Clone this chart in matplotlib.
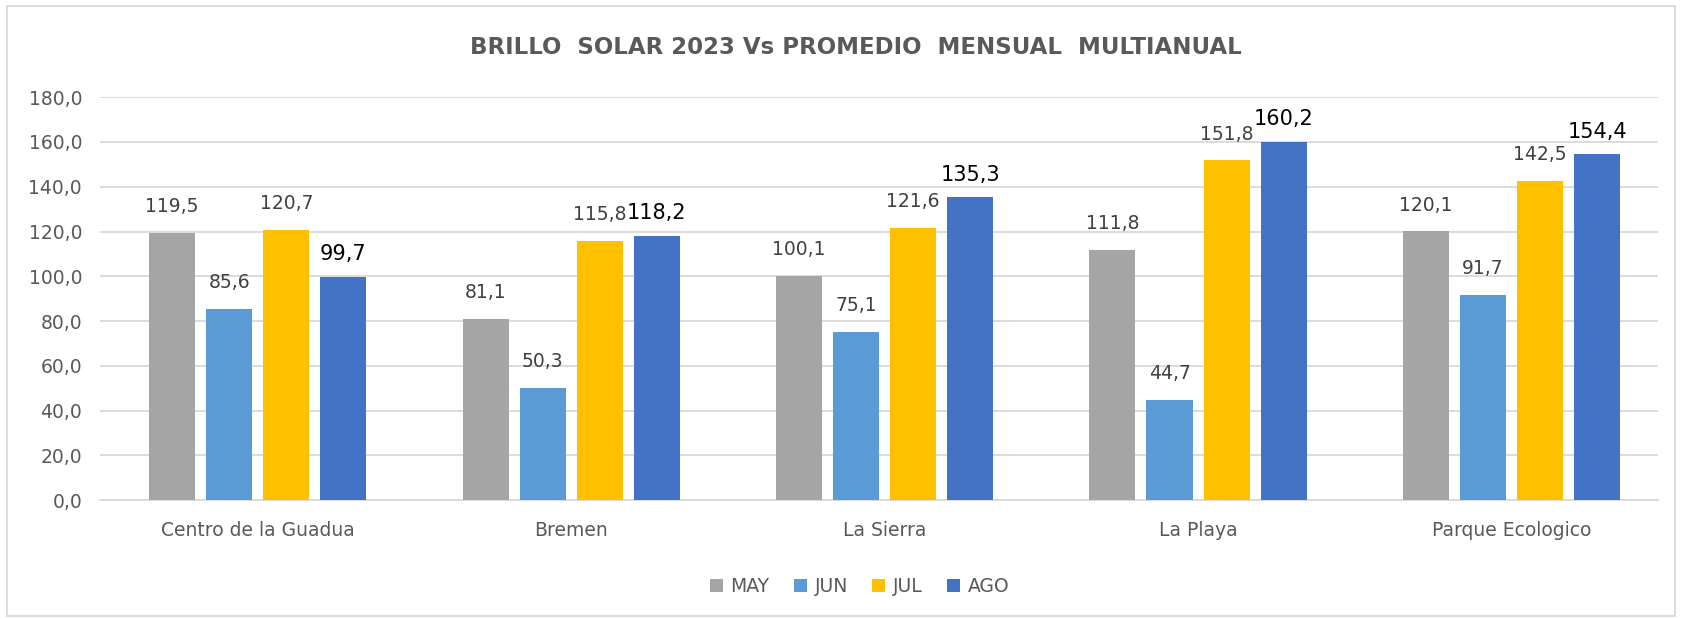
import matplotlib
matplotlib.use('Agg')
import matplotlib.pyplot as plt
import numpy as np
from matplotlib.patches import Rectangle

# Data
stations = ['Centro de la Guadua', 'Bremen', 'La Sierra', 'La Playa', 'Parque Ecologico']
months = ['MAY', 'JUN', 'JUL', 'AGO']
may = [119.5, 81.1, 100.1, 111.8, 120.1]
jun = [85.6, 50.3, 75.1, 44.7, 91.7]
jul = [120.7, 115.8, 121.6, 151.8, 142.5]
ago = [99.7, 118.2, 135.3, 160.2, 154.4]
yticks = [0, 20, 40, 60, 80, 100, 120, 140, 160, 180]

series = [may, jun, jul, ago]
colors = ['#A5A5A5', '#5B9BD5', '#FFC000', '#4472C4']

plt.rcParams['font.family'] = ['DejaVu Sans']

fig = plt.figure(figsize=(16.82, 6.19), dpi=100)
ax = fig.add_axes([0.0595, 0.192, 0.9265, 0.651])

x = np.arange(len(stations))
width = 0.147
pitch = 0.182
for i, (vals, c, m) in enumerate(zip(series, colors, months)):
    pos = x + (i - 1.5) * pitch
    ax.bar(pos, vals, width=width, color=c, label=m, zorder=3)
    for px, v in zip(pos, vals):
        lbl = f'{v:.1f}'.replace('.', ',')
        if m == 'AGO':
            ax.annotate(lbl, (px, v), xytext=(0, 9), textcoords='offset points',
                        ha='center', va='bottom', fontsize=15, color='black')
        else:
            ax.annotate(lbl, (px, v), xytext=(0, 12), textcoords='offset points',
                        ha='center', va='bottom', fontsize=13.5, color='#404040')

ax.set_xlim(-0.503, 4.469)
ax.set_ylim(0, 180)
ax.set_yticks(yticks)
ax.set_yticklabels([f'{t:.1f}'.replace('.', ',') for t in yticks])
ax.set_xticks(x)
ax.set_xticklabels(stations)
ax.tick_params(axis='y', length=0, pad=13, labelsize=13.5, labelcolor='#595959')
ax.tick_params(axis='x', length=0, pad=15, labelsize=13.5, labelcolor='#595959')
ax.grid(axis='y', color='#D9D9D9', linewidth=1.3, zorder=0)
for s in ['top', 'right', 'left']:
    ax.spines[s].set_visible(False)
ax.spines['bottom'].set_color('#D9D9D9')
ax.spines['bottom'].set_linewidth(1.3)

fig.text(0.509, 0.923, 'BRILLO  SOLAR 2023 Vs PROMEDIO  MENSUAL  MULTIANUAL',
         ha='center', va='center', fontsize=16.5, fontweight='bold', color='#595959')

leg = fig.legend(loc='center', bbox_to_anchor=(0.511, 0.053), ncol=4, frameon=False,
                 fontsize=13.5, handlelength=0.7, handleheight=0.7, handletextpad=0.4,
                 columnspacing=1.3)
for t in leg.get_texts():
    t.set_color('#595959')

fig.patches.append(Rectangle((0.004, 0.005), 0.992, 0.985, transform=fig.transFigure,
                             fill=False, edgecolor='#D9D9D9', linewidth=1.3))

fig.savefig('out.png', dpi=100)
